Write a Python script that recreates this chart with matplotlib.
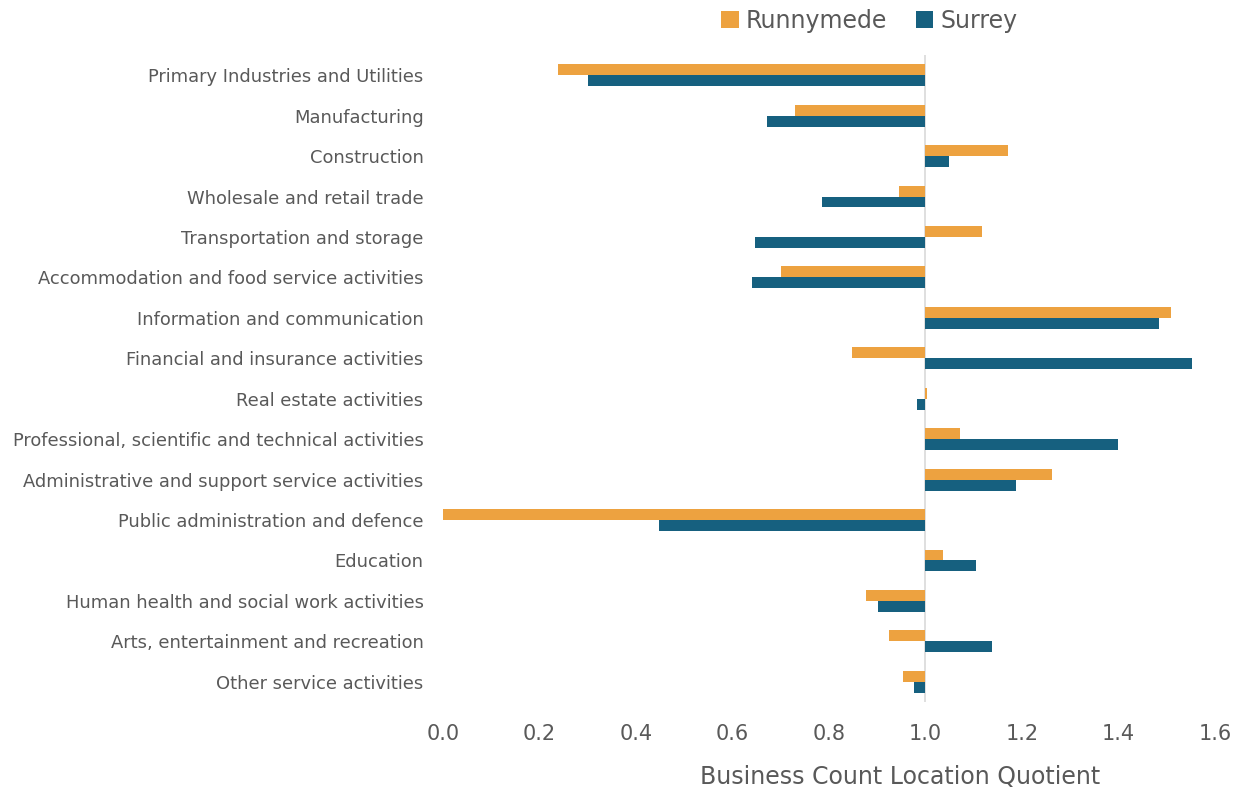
import matplotlib
matplotlib.use("Agg")
import matplotlib.pyplot as plt
import numpy as np

# sectors, top to bottom
categories = [
    "Primary Industries and Utilities",
    "Manufacturing",
    "Construction",
    "Wholesale and retail trade",
    "Transportation and storage",
    "Accommodation and food service activities",
    "Information and communication",
    "Financial and insurance activities",
    "Real estate activities",
    "Professional, scientific and technical activities",
    "Administrative and support service activities",
    "Public administration and defence",
    "Education",
    "Human health and social work activities",
    "Arts, entertainment and recreation",
    "Other service activities",
]
runnymede = [0.238, 0.729, 1.170, 0.946, 1.118, 0.700, 1.509, 0.847, 1.003,
             1.072, 1.263, 0.0, 1.037, 0.876, 0.925, 0.954]
surrey = [0.300, 0.671, 1.048, 0.785, 0.646, 0.640, 1.484, 1.553, 0.983,
          1.398, 1.188, 0.447, 1.104, 0.901, 1.137, 0.977]
xticks = [0.0, 0.2, 0.4, 0.6, 0.8, 1.0, 1.2, 1.4, 1.6]

orange = "#EDA240"
blue = "#16607F"
grey_text = "#595959"

fig = plt.figure(figsize=(12.42, 7.87), dpi=100)
ax = fig.add_axes([443 / 1242, 1 - 702 / 787, (1215 - 443) / 1242, (702 - 55) / 787])

y = np.arange(len(categories))
h = 0.27
base = 1.0
r = np.array(runnymede) - base
s = np.array(surrey) - base
ax.barh(y - h / 2, r, height=h, left=base, color=orange, label="Runnymede")
ax.barh(y + h / 2, s, height=h, left=base, color=blue, label="Surrey")

ax.axvline(base, color="#d9d9d9", lw=1.2, zorder=0)

ax.set_xlim(0, 1.6)
ax.set_ylim(len(categories) - 0.5, -0.5)
ax.set_yticks(y)
ax.set_yticklabels(categories, fontsize=12.9, color=grey_text)
ax.set_xticks(xticks)
ax.set_xticklabels([f"{v:.1f}" for v in xticks], fontsize=15, color=grey_text)
ax.tick_params(axis="both", length=0)
ax.tick_params(axis="x", pad=16)
ax.tick_params(axis="y", pad=14)
for sp in ax.spines.values():
    sp.set_visible(False)

ax.set_xlabel("Business Count Location Quotient", fontsize=17, color=grey_text)
ax.xaxis.set_label_coords(0.592, -0.097)

fig.legend(loc="upper center", bbox_to_anchor=(0.70, 1.016), ncol=2, frameon=False,
           fontsize=17, handlelength=0.75, handleheight=0.75, handletextpad=0.3,
           columnspacing=1.2, labelcolor=grey_text)

fig.savefig("out.png", dpi=100)
